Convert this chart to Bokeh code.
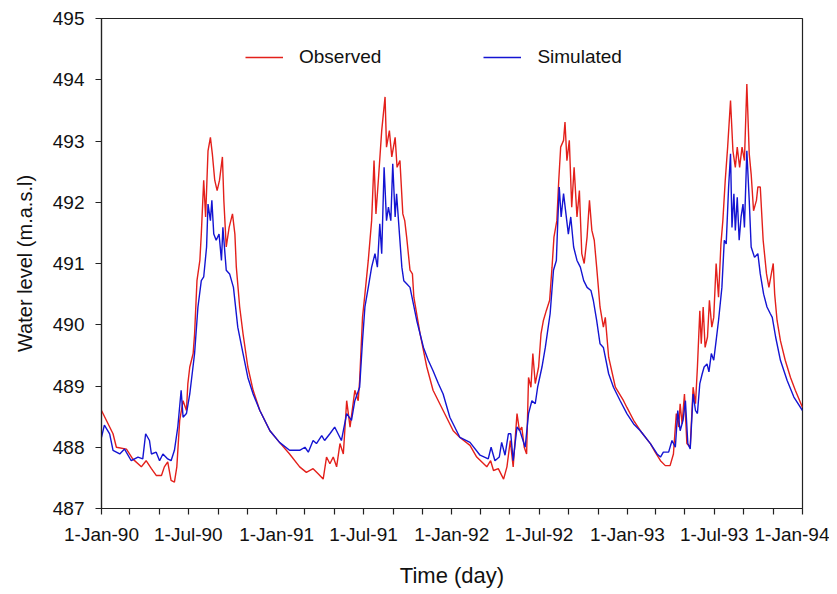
import datetime as dt
import pandas as pd
from bokeh.plotting import figure
from bokeh.models import (Range1d, FixedTicker, CustomJSTickFormatter, Legend,
                          LegendItem, ColumnDataSource)
from bokeh.embed import file_html
from bokeh.resources import INLINE

# ---- data: day number since 1-Jan-1990, water level (m a.s.l.) ----
obs_day = [0, 24, 31, 52, 65, 83, 93, 104, 114, 125, 131, 138, 145, 152, 157, 163, 170, 177,
           180, 184, 191, 194, 199, 205, 208, 213, 217, 222, 227, 231, 236, 241, 246, 252,
           255, 260, 266, 273, 278, 281, 288, 295, 305, 316, 330, 351, 371,
           392, 413, 427, 441, 451, 462, 469, 476, 483, 490, 497, 504, 511, 518, 528, 535,
           538, 544, 549, 556, 563, 568, 572, 577, 584, 591, 594, 600, 605, 612, 616, 622,
           628, 632, 636, 643, 648, 651, 664, 678, 691, 705, 719, 733,
           747, 768, 782, 803, 811, 817, 827, 838, 845, 852, 858, 866, 871, 876, 881, 886,
           890, 895, 899, 904, 911, 916, 921, 927, 934, 939, 943, 949, 953, 957, 963, 966,
           970, 975, 980, 985, 991, 996, 1001, 1006, 1012, 1017, 1022, 1027, 1032, 1039,
           1046, 1050, 1057, 1071, 1088, 1095, 1109,
           1123, 1144, 1154, 1165, 1175, 1185, 1192, 1198, 1203, 1206, 1210, 1215, 1220,
           1227, 1233, 1238, 1242, 1247, 1250, 1254, 1258, 1263, 1267, 1272, 1276, 1281,
           1286, 1291, 1295, 1300, 1305, 1311, 1316, 1321, 1325, 1330, 1335, 1340, 1345,
           1350, 1354, 1359, 1365, 1368, 1373, 1379, 1386, 1391, 1396, 1400, 1403, 1408,
           1415, 1425, 1436, 1446, 1461]
obs_level = [488.60, 488.22, 488.00, 487.97, 487.81, 487.68, 487.78, 487.65, 487.54, 487.54,
             487.68, 487.76, 487.46, 487.43, 487.68, 488.44, 488.76, 488.60, 489.04, 489.31,
             489.53, 489.85, 490.72, 491.05, 491.48, 492.36, 491.76, 492.84, 493.06, 492.79,
             492.36, 492.19, 492.36, 492.74, 492.03, 491.27, 491.59, 491.81, 491.48, 490.94,
             490.29, 489.85, 489.31, 488.93, 488.60, 488.27, 488.08,
             487.89, 487.68, 487.59, 487.65, 487.57, 487.48, 487.84, 487.73, 487.84, 487.68,
             488.06, 487.89, 488.76, 488.33, 488.93, 488.76, 489.09, 490.12, 490.50, 491.05,
             491.70, 492.68, 491.81, 492.36, 493.17, 493.72, 492.90, 493.17, 492.74, 493.06,
             492.57, 492.68, 491.81, 491.70, 491.43, 490.89, 490.83, 490.45, 489.85, 489.31,
             488.93, 488.71, 488.49, 488.27,
             488.16, 488.03, 487.84, 487.68, 487.78, 487.62, 487.65, 487.48, 487.68, 488.11,
             487.68, 488.55, 488.27, 488.33, 488.00, 487.89, 489.14, 488.98, 489.53, 489.04,
             489.31, 489.85, 490.07, 490.23, 490.40, 490.94, 491.43, 491.70, 492.36, 492.90,
             493.01, 493.31, 492.68, 493.01, 491.92, 492.57, 491.76, 492.19, 491.16, 491.00,
             491.43, 492.03, 491.54, 491.38, 490.94, 490.29, 489.96, 490.12, 489.47, 488.98,
             488.76, 488.65, 488.44,
             488.27, 488.06, 487.92, 487.78, 487.70, 487.70, 487.89, 488.55, 488.33, 488.71,
             488.38, 488.87, 488.06, 488.00, 488.98, 488.71, 489.31, 490.23, 489.69, 490.29,
             489.63, 489.80, 490.40, 489.96, 490.12, 491.00, 490.45, 491.32, 491.70, 492.36,
             492.90, 493.66, 492.84, 492.57, 492.90, 492.57, 492.90, 492.68, 493.93, 492.79,
             492.46, 491.86, 492.03, 492.25, 492.25, 491.38, 490.83, 490.61, 490.83, 491.00,
             490.50, 490.07, 489.74, 489.42, 489.14, 488.93, 488.65]

sim_day = [0, 6, 17, 24, 38, 48, 62, 76, 86, 92, 100, 104, 114, 121, 128, 138, 145, 152, 159,
           166, 170, 177, 184, 194, 201, 208, 213, 219, 222, 227, 230, 234, 239, 245, 250,
           253, 260, 267, 275, 284, 295, 305, 316, 330, 351, 371,
           392, 413, 424, 431, 441, 448, 459, 465, 476, 486, 493, 500, 511, 521, 528, 538,
           544, 549, 556, 563, 570, 575, 580, 584, 589, 594, 598, 603, 607, 612, 615, 621,
           626, 630, 636, 643, 657, 671, 681, 691, 702, 712, 726, 740,
           747, 768, 789, 806, 812, 820, 829, 834, 841, 848, 853, 858, 866, 872, 883, 890,
           897, 904, 909, 918, 925, 929, 935, 942, 948, 951, 954, 958, 963, 968, 973, 978,
           984, 991, 998, 1005, 1012, 1020, 1025, 1032, 1039, 1046, 1057, 1067, 1081, 1095,
           1109,
           1123, 1144, 1158, 1165, 1171, 1182, 1189, 1196, 1201, 1206, 1212, 1217, 1222,
           1227, 1233, 1238, 1242, 1247, 1252, 1256, 1262, 1266, 1271, 1276, 1281, 1286,
           1293, 1298, 1302, 1307, 1311, 1314, 1318, 1321, 1325, 1329, 1333, 1337, 1340,
           1345, 1350, 1354, 1361, 1368, 1373, 1380, 1387, 1394, 1398, 1405, 1415, 1429,
           1443, 1461]
sim_level = [488.16, 488.36, 488.22, 487.95, 487.89, 487.97, 487.78, 487.84, 487.81, 488.22,
             488.11, 487.89, 487.92, 487.78, 487.89, 487.81, 487.78, 487.95, 488.33, 488.93,
             488.49, 488.55, 488.87, 489.53, 490.29, 490.72, 490.78, 491.27, 491.97, 491.70,
             492.03, 491.48, 491.38, 491.48, 491.05, 491.59, 490.89, 490.83, 490.61, 489.96,
             489.53, 489.14, 488.87, 488.60, 488.27, 488.08,
             487.95, 487.95, 488.00, 487.92, 488.11, 488.06, 488.19, 488.11, 488.22, 488.33,
             488.22, 488.11, 488.55, 488.44, 488.76, 488.98, 489.74, 490.29, 490.61, 490.94,
             491.16, 490.94, 491.65, 491.16, 492.57, 491.70, 491.92, 491.70, 492.63, 491.76,
             492.14, 491.48, 490.94, 490.72, 490.67, 490.61, 490.07, 489.63, 489.42, 489.25,
             489.04, 488.87, 488.49, 488.27,
             488.16, 488.08, 487.87, 487.81, 488.00, 487.78, 487.84, 488.08, 487.87, 488.22,
             488.22, 487.78, 488.33, 488.27, 488.00, 488.55, 488.76, 488.71, 488.98, 489.31,
             489.63, 489.85, 490.18, 490.89, 491.05, 491.70, 492.25, 491.76, 492.14, 491.81,
             491.48, 491.76, 491.27, 491.05, 490.94, 490.72, 490.61, 490.56, 490.40, 490.07,
             489.69, 489.63, 489.20, 488.98, 488.76, 488.55, 488.38,
             488.27, 488.06, 487.89, 487.84, 487.92, 487.92, 488.11, 488.00, 488.60, 488.27,
             488.44, 488.76, 488.06, 487.97, 488.87, 488.60, 488.55, 489.04, 489.20, 489.31,
             489.36, 489.23, 489.53, 489.42, 489.74, 490.07, 490.61, 491.38, 491.32, 492.25,
             492.79, 491.59, 492.14, 491.54, 492.08, 491.38, 491.76, 491.97, 491.59, 492.84,
             492.03, 491.27, 491.10, 491.16, 490.83, 490.50, 490.29, 490.18, 490.12, 489.80,
             489.42, 489.09, 488.82, 488.60]

start_date = "1990-01-01"
end_date = "1994-01-01"
tick_dates = ["1990-01-01", "1990-07-01", "1991-01-01", "1991-07-01", "1992-01-01",
              "1992-07-01", "1993-01-01", "1993-07-01", "1994-01-01"]
tick_labels = ["1-Jan-90", "1-Jul-90", "1-Jan-91", "1-Jul-91", "1-Jan-92", "1-Jul-92",
               "1-Jan-93", "1-Jul-93", "1-Jan-94"]
minor_tick_dates = ["1990-03-01", "1990-05-01", "1990-09-01", "1990-11-01",
                    "1991-03-01", "1991-05-01", "1991-09-01", "1991-11-01",
                    "1992-03-01", "1992-05-01", "1992-09-01", "1992-11-01",
                    "1993-03-01", "1993-05-01", "1993-09-01", "1993-11-01"]
y_ticks = [487, 488, 489, 490, 491, 492, 493, 494, 495]
y_min, y_max = 487, 495

series_names = ["Observed", "Simulated"]
series_colors = ["#e3201b", "#1414d2"]

# ---- build ----
base = pd.Timestamp(start_date)
obs_src = ColumnDataSource(dict(x=base + pd.to_timedelta(obs_day, unit="D"), y=obs_level))
sim_src = ColumnDataSource(dict(x=base + pd.to_timedelta(sim_day, unit="D"), y=sim_level))


def to_ms(d):
    return pd.Timestamp(d).timestamp() * 1000.0


FONT = "Liberation Sans"

p = figure(width=829, height=590, x_axis_type="datetime", output_backend="svg",
           toolbar_location=None,
           x_range=Range1d(dt.datetime.fromisoformat(start_date), dt.datetime.fromisoformat(end_date)),
           y_range=Range1d(y_min, y_max),
           min_border_left=101, min_border_right=27, min_border_top=18, min_border_bottom=82)

r_obs = p.line("x", "y", source=obs_src, line_color=series_colors[0], line_width=1.4)
r_sim = p.line("x", "y", source=sim_src, line_color=series_colors[1], line_width=1.4)

p.xgrid.grid_line_color = None
p.ygrid.grid_line_color = None
p.outline_line_color = "#222222"
p.outline_line_width = 1.2
p.background_fill_color = "white"
p.border_fill_color = "white"

p.xaxis.ticker = FixedTicker(ticks=[to_ms(d) for d in tick_dates],
                             minor_ticks=[to_ms(d) for d in minor_tick_dates])
p.xaxis.formatter = CustomJSTickFormatter(
    args=dict(labels=tick_labels, tms=[to_ms(d) for d in tick_dates]),
    code="""
    let best = 0, bd = Infinity;
    for (let i = 0; i < tms.length; i++) {
        const d = Math.abs(tms[i] - tick);
        if (d < bd) { bd = d; best = i; }
    }
    return labels[best];
    """)
p.yaxis.ticker = FixedTicker(ticks=y_ticks, minor_ticks=[])

for ax in (p.xaxis[0], p.yaxis[0]):
    ax.axis_line_color = "#222222"
    ax.axis_line_width = 1.2
    ax.major_tick_line_color = "#222222"
    ax.major_tick_line_width = 1.2
    ax.minor_tick_line_color = "#222222"
    ax.minor_tick_line_width = 1.2
    ax.major_tick_in = 0
    ax.major_tick_out = 6
    ax.minor_tick_in = 0
    ax.minor_tick_out = 6
    ax.major_label_text_font = FONT
    ax.major_label_text_font_size = "19px"
    ax.major_label_text_color = "#111111"
    ax.major_label_standoff = 9
    ax.axis_label_text_font = FONT
    ax.axis_label_text_font_style = "normal"
    ax.axis_label_text_color = "#111111"

p.yaxis.minor_tick_line_color = None
p.yaxis.major_label_standoff = 11
p.xaxis.axis_label = "Time (day)"
p.xaxis.axis_label_text_font_size = "22px"
p.xaxis.axis_label_standoff = 15
p.yaxis.axis_label = "Water level (m.a.s.l)"
p.yaxis.axis_label_text_font_size = "20px"
p.yaxis.axis_label_standoff = 14

legend = Legend(items=[LegendItem(label=series_names[0], renderers=[r_obs]),
                       LegendItem(label=series_names[1], renderers=[r_sim])],
                orientation="horizontal", location=(144, 440),
                glyph_width=38, glyph_height=20, label_standoff=16, spacing=102,
                padding=0, margin=0, border_line_color=None, background_fill_alpha=0,
                label_text_font=FONT, label_text_font_size="19px",
                label_text_color="#111111", label_height=20)
p.add_layout(legend)

open("out.html", "w").write(file_html(p, INLINE))
